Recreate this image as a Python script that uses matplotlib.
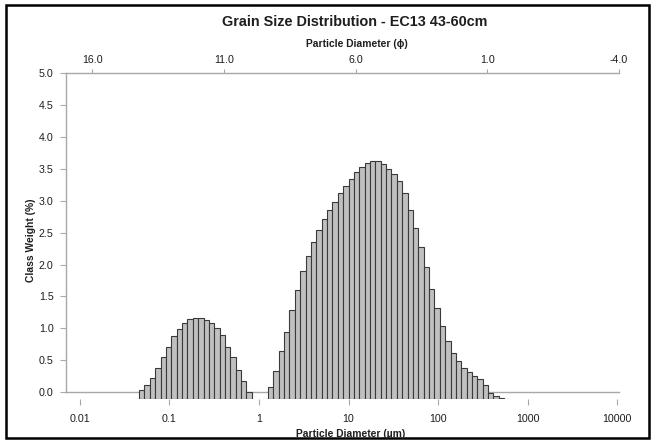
import matplotlib
matplotlib.use("Agg")
import matplotlib.pyplot as plt
from matplotlib.patches import Rectangle
import numpy as np

plt.rcParams['font.family'] = ['Liberation Sans', 'DejaVu Sans']

# Size-class boundaries (µm) and class weights (%) for the two modes
fine_edges_um = [0.0398, 0.0457, 0.0525, 0.0603, 0.0692, 0.0794, 0.0912, 0.105,
                 0.120, 0.138, 0.158, 0.182, 0.209, 0.240, 0.275, 0.316, 0.363,
                 0.417, 0.479, 0.550, 0.631, 0.724, 0.832]
fine_weight = [0.0, 0.14, 0.22, 0.33, 0.47, 0.64, 0.80, 0.96, 1.08, 1.16, 1.23,
               1.25, 1.25, 1.22, 1.16, 1.09, 0.98, 0.80, 0.64, 0.45, 0.27, 0.11]

coarse_edges_um = [1.096, 1.259, 1.445, 1.660, 1.905, 2.188, 2.512, 2.884, 3.311,
                   3.802, 4.365, 5.012, 5.754, 6.607, 7.586, 8.710, 10.00, 11.48,
                   13.18, 15.14, 17.38, 19.95, 22.91, 26.30, 30.20, 34.67, 39.81,
                   45.71, 52.48, 60.26, 69.18, 79.43, 91.20, 104.7, 120.2, 138.0,
                   158.5, 182.0, 208.9, 239.9, 275.4, 316.2, 363.1, 416.9, 478.6,
                   549.5, 631.0]
coarse_weight = [0.0, 0.18, 0.43, 0.73, 1.03, 1.37, 1.67, 1.96, 2.20, 2.41,
                 2.59, 2.76, 2.90, 3.03, 3.16, 3.27, 3.37, 3.48, 3.56, 3.62,
                 3.65, 3.65, 3.61, 3.53, 3.46, 3.34, 3.16, 2.90, 2.62, 2.33,
                 2.02, 1.69, 1.39, 1.12, 0.89, 0.70, 0.58, 0.47, 0.41, 0.36,
                 0.30, 0.21, 0.09, 0.05, 0.02, 0.0]

um_ticks = [0.01, 0.1, 1, 10, 100, 1000, 10000]
um_labels = ["0.01", "0.1", "1", "10", "100", "1000", "10000"]
phi_ticks = [16.0, 11.0, 6.0, 1.0, -4.0]
phi_labels = ["16.0", "11.0", "6.0", "1.0", "-4.0"]
weight_ticks = [0.0, 0.5, 1.0, 1.5, 2.0, 2.5, 3.0, 3.5, 4.0, 4.5, 5.0]

W, H = 655, 444
AX_GRAY = "#a8a8a8"
TXT = "#1e1e1e"
BAR_FILL = "#c0c0c0"
BAR_EDGE = "#3a3a3a"
TICK_FS = 7.7
LABEL_FS = 7.4


def px_rect(left, top, right, bottom):
    return [left / W, 1 - bottom / H, (right - left) / W, (bottom - top) / H]


fig = plt.figure(figsize=(W / 100, H / 100), dpi=100)

# Axes carrying the weight scale and the phi scale
ax_w = fig.add_axes(px_rect(66, 73.3, 619, 392))
ax_w.set_xlim(17.0, -4.0)
ax_w.set_ylim(0, 5)
ax_w.set_facecolor("none")
ax_w.xaxis.tick_top()
ax_w.set_xticks(phi_ticks)
ax_w.set_xticklabels(phi_labels)
ax_w.set_yticks(weight_ticks)
ax_w.set_yticklabels([f"{v:.1f}" for v in weight_ticks])
ax_w.spines['right'].set_visible(False)
for s in ('left', 'top', 'bottom'):
    ax_w.spines[s].set_color(AX_GRAY)
    ax_w.spines[s].set_linewidth(1.0)
ax_w.tick_params(axis='x', which='both', top=True, bottom=False, direction='out',
                 length=3, width=0.8, color=AX_GRAY, pad=3, labelsize=TICK_FS,
                 labelcolor=TXT)
ax_w.tick_params(axis='y', direction='out', length=4, width=0.8, color=AX_GRAY,
                 pad=5, labelsize=TICK_FS, labelcolor=TXT)
ax_w.set_zorder(1)

# Axes carrying the bars and the micrometre scale
ax_b = fig.add_axes(px_rect(66, 73.3, 619, 399))
ax_b.set_xscale('log')
ax_b.set_xlim(10 ** -2.1564, 10 ** 4.0223)
ax_b.set_ylim(0, 5)
ax_b.set_facecolor("none")
for s in ax_b.spines.values():
    s.set_visible(False)
ax_b.set_yticks([])
ax_b.set_xticks(um_ticks)
ax_b.set_xticklabels(um_labels)
ax_b.xaxis.set_minor_locator(matplotlib.ticker.NullLocator())
ax_b.tick_params(axis='x', direction='out', length=4, width=0.8, color=AX_GRAY,
                 pad=6.5, labelsize=TICK_FS, labelcolor=TXT)
ax_b.set_zorder(2)

for edges, weights in ((fine_edges_um, fine_weight), (coarse_edges_um, coarse_weight)):
    e = np.asarray(edges)
    ax_b.bar(e[:-1], weights, width=np.diff(e), align='edge', color=BAR_FILL,
             edgecolor=BAR_EDGE, linewidth=0.8)

# Titles and axis labels
fig.text(355 / W, 1 - 22 / H, "Grain Size Distribution - EC13 43-60cm",
         ha='center', va='center', fontsize=10.4, fontweight='bold', color=TXT)
fig.text(357 / W, 1 - 44 / H, "Particle Diameter (\u03d5)", ha='center', va='center',
         fontsize=LABEL_FS, fontweight='bold', color=TXT)
fig.text(351 / W, 1 - 434 / H, "Particle Diameter (\u00b5m)", ha='center', va='center',
         fontsize=LABEL_FS, fontweight='bold', color=TXT)
fig.text(31 / W, 1 - 240 / H, "Class Weight (%)", ha='center', va='center',
         rotation=90, fontsize=LABEL_FS, fontweight='bold', color=TXT)

# Outer frame
fig.patches.append(Rectangle((6 / W, 6 / H), 643 / W, 433 / H, transform=fig.transFigure,
                             fill=False, edgecolor='black', linewidth=1.8))

fig.savefig("out.png", dpi=100)
